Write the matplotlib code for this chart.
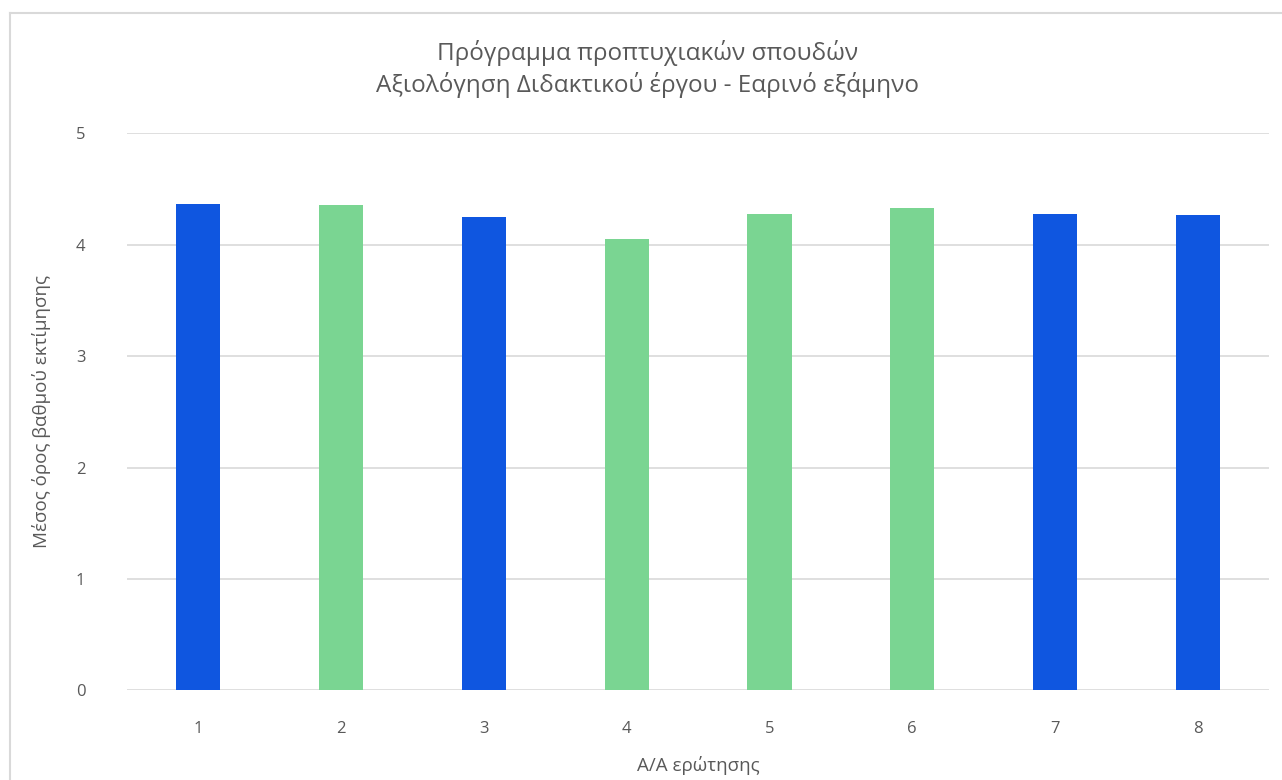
import matplotlib.pyplot as plt
from matplotlib.lines import Line2D

# Datos del grafico
questions = [1, 2, 3, 4, 5, 6, 7, 8]
mean_scores = [4.37, 4.36, 4.25, 4.05, 4.28, 4.33, 4.28, 4.27]
bar_colors = ['#0F56E0', '#7AD592', '#0F56E0', '#7AD592',
              '#7AD592', '#7AD592', '#0F56E0', '#0F56E0']
y_ticks = [0, 1, 2, 3, 4, 5]

title_text = "Πρόγραμμα προπτυχιακών σπουδών\nΑξιολόγηση Διδακτικού έργου - Εαρινό εξάμηνο"
xlabel_text = "Α/Α ερώτησης"
ylabel_text = "Μέσος όρος βαθμού εκτίμησης"

plt.rcParams['font.family'] = ['Open Sans', 'DejaVu Sans']
text_color = '#595959'

fig = plt.figure(figsize=(12.82, 7.8), dpi=100)
ax = fig.add_axes([0.099, 0.115, 0.891, 0.714])

ax.bar(questions, mean_scores, width=0.31, color=bar_colors, zorder=3)

ax.set_xlim(0.5, 8.5)
ax.set_ylim(0, 5)
ax.set_yticks(y_ticks)
ax.set_xticks(questions)
ax.grid(axis='y', color='#D9D9D9', linewidth=1.2, zorder=0)
for s in ax.spines.values():
    s.set_visible(False)
ax.tick_params(length=0, labelsize=12, labelcolor=text_color)
ax.tick_params(axis='x', pad=22)
ax.tick_params(axis='y', pad=30)

ax.set_xlabel(xlabel_text, fontsize=13.5, color=text_color, labelpad=14)
ax.set_ylabel(ylabel_text, fontsize=13.5, color=text_color, labelpad=18)

fig.text(0.505, 0.912, title_text, ha='center', va='center',
         fontsize=17.5, color=text_color, linespacing=1.3)

# marco del grafico
fig.add_artist(Line2D([10 / 1282, 10 / 1282], [0, 1 - 13 / 780],
                      transform=fig.transFigure, color='#D9D9D9', lw=1.5))
fig.add_artist(Line2D([10 / 1282, 1], [1 - 13 / 780, 1 - 13 / 780],
                      transform=fig.transFigure, color='#D9D9D9', lw=1.5))

fig.savefig('out.png', dpi=100)
